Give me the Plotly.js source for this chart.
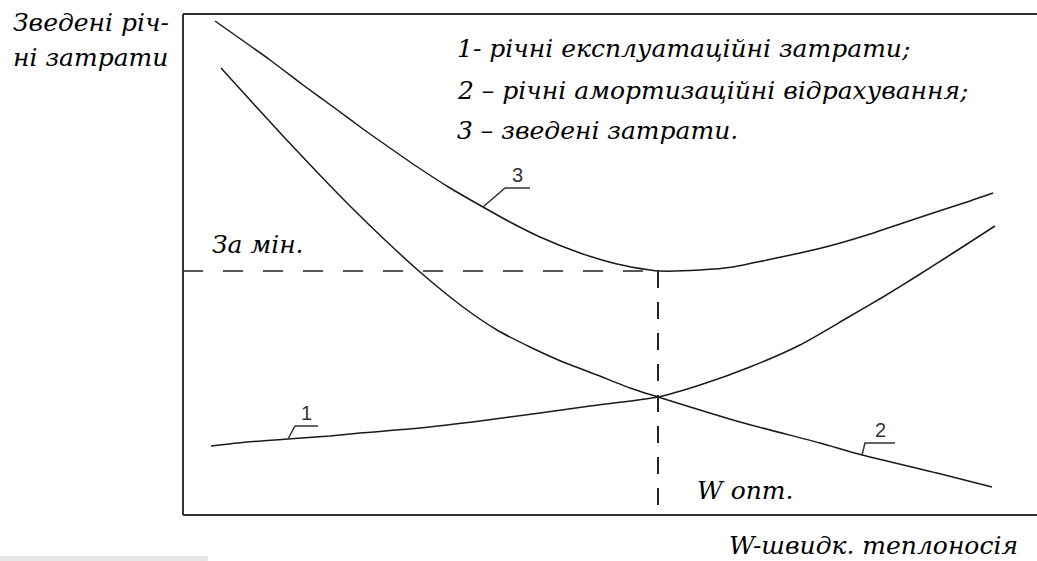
<!DOCTYPE html>
<html>
<head>
<meta charset="utf-8">
<script src="https://cdn.plot.ly/plotly-3.0.1.min.js"></script>
<style>html,body{margin:0;padding:0;background:#fff;}</style>
</head>
<body>
<div id="chart"></div>
<script>
// Curve 3 – зведені затрати
const totalX = [3.2, 8.7, 12.0, 15.3, 18.0, 20.7, 23.3, 26.7, 30.0, 32.7, 35.7, 39.7, 43.4, 46.7, 47.7, 51.7, 55.0, 58.4, 61.7, 65.0, 68.4, 71.7, 75.0, 78.4, 81.0];
const totalY = [49.4, 45.5, 43.0, 40.6, 38.6, 36.7, 34.9, 32.7, 30.8, 29.3, 27.8, 26.2, 25.1, 24.5, 24.4, 24.5, 24.8, 25.5, 26.2, 27.0, 28.0, 29.1, 30.2, 31.3, 32.2];
// Curve 2 – річні амортизаційні відрахування
const amortX = [3.8, 6.7, 10.0, 13.3, 16.7, 20.2, 23.7, 28.0, 31.4, 34.7, 38.0, 41.4, 44.7, 47.5, 55.7, 63.7, 67.9, 75.4, 80.9];
const amortY = [44.7, 41.5, 37.9, 34.4, 30.9, 27.5, 24.3, 20.8, 18.5, 16.8, 15.3, 14.0, 12.7, 11.8, 9.3, 7.2, 6.0, 4.2, 2.8];
// Curve 1 – річні експлуатаційні затрати
const operX = [2.8, 6.4, 10.5, 14.7, 17.7, 23.7, 29.7, 35.7, 40.7, 47.5, 51.7, 56.7, 61.7, 66.4, 70.0, 73.4, 76.7, 81.2];
const operY = [6.9, 7.3, 7.6, 7.9, 8.2, 8.7, 9.4, 10.2, 10.9, 11.8, 13.0, 14.8, 17.0, 19.7, 21.8, 23.9, 26.0, 28.9];
// Optimum
const optX = 47.5;
const minY = 24.4;
// Leader lines for curve numbers
const lead3X = [30.0, 32.2, 34.7], lead3Y = [30.8, 32.7, 32.7];
const lead1X = [10.5, 11.2, 13.5], lead1Y = [7.6, 8.9, 8.9];
const lead2X = [67.9, 68.2, 71.2], lead2Y = [6.0, 7.2, 7.2];
const curveLabels = ['1', '2', '3'];
const legendLines = ['1- річні експлуатаційні затрати;', '2 – річні амортизаційні відрахування;', '3 – зведені затрати.'];
const yTitle = ['Зведені річ-', 'ні затрати'];
const xTitle = 'W-швидк. теплоносія';
const minLabel = 'За мін.';
const optLabel = 'W опт.';

const curveLine = {color: '#1a1a1a', width: 1.5, shape: 'spline', smoothing: 0.6};
const leadLine = {color: '#333', width: 1.5};
const traces = [
  {x: totalX, y: totalY, mode: 'lines', line: curveLine},
  {x: amortX, y: amortY, mode: 'lines', line: curveLine},
  {x: operX, y: operY, mode: 'lines', line: curveLine},
  {x: [0, optX], y: [minY, minY], mode: 'lines', line: {color: '#222', width: 1.5, dash: '20px,20px'}},
  {x: [optX, optX], y: [minY, 0], mode: 'lines', line: {color: '#222', width: 2, dash: '17px,14px'}},
  {x: lead3X, y: lead3Y, mode: 'lines', line: leadLine},
  {x: lead1X, y: lead1Y, mode: 'lines', line: leadLine},
  {x: lead2X, y: lead2Y, mode: 'lines', line: leadLine}
];

const textItems = [
  [yTitle[0], -0.2014, 0.984, 'left'],
  [yTitle[1], -0.2014, 0.914, 'left'],
  [legendLines[0], 0.3185, 0.932, 'left'],
  [legendLines[1], 0.3185, 0.848, 'left'],
  [legendLines[2], 0.3185, 0.768, 'left'],
  [minLabel, 0.0316, 0.539, 'left'],
  [optLabel, 0.5995, 0.0499, 'left'],
  [xTitle, 0.980, -0.0599, 'right']
];
const ann = textItems.map(t => ({
  text: t[0], x: t[1], y: t[2], xref: 'paper', yref: 'paper', xanchor: t[3], yanchor: 'middle', showarrow: false,
  font: {family: 'DejaVu Serif', size: 25, style: 'italic', color: '#000'}
}));
const labelItems = [
  [curveLabels[2], (lead3X[1] + lead3X[2]) / 2, lead3Y[2]],
  [curveLabels[0], (lead1X[1] + lead1X[2]) / 2, lead1Y[2]],
  [curveLabels[1], (lead2X[1] + lead2X[2]) / 2, lead2Y[2]]
];
labelItems.forEach(t => ann.push({
  text: t[0], x: t[1], y: t[2], xref: 'x', yref: 'y', xanchor: 'center', yanchor: 'bottom', showarrow: false,
  font: {family: 'Liberation Sans', size: 20, color: '#333'}
}));

const frame = {color: '#333', width: 2};
const layout = {
  width: 1037, height: 561,
  font: {family: 'DejaVu Serif', size: 25, color: '#000'},
  margin: {l: 183, r: 0, t: 14, b: 46, pad: 0},
  paper_bgcolor: '#fff', plot_bgcolor: '#fff',
  showlegend: false,
  xaxis: {range: [0, 85.4], visible: false},
  yaxis: {range: [0, 50.1], visible: false},
  shapes: [
    {type: 'line', xref: 'paper', yref: 'paper', x0: 0, x1: 0, y0: 0, y1: 1, line: frame},
    {type: 'line', xref: 'paper', yref: 'paper', x0: 0, x1: 1, y0: 1, y1: 1, line: frame},
    {type: 'line', xref: 'paper', yref: 'paper', x0: 0, x1: 1, y0: 0, y1: 0, line: frame},
    {type: 'rect', xref: 'paper', yref: 'paper', x0: -0.2143, x1: 0.029, y0: -0.0818, y1: -0.0918, line: {width: 0}, fillcolor: '#e6e6e6'}
  ],
  annotations: ann
};
Plotly.newPlot('chart', traces, layout, {staticPlot: true});
</script>
</body>
</html>
